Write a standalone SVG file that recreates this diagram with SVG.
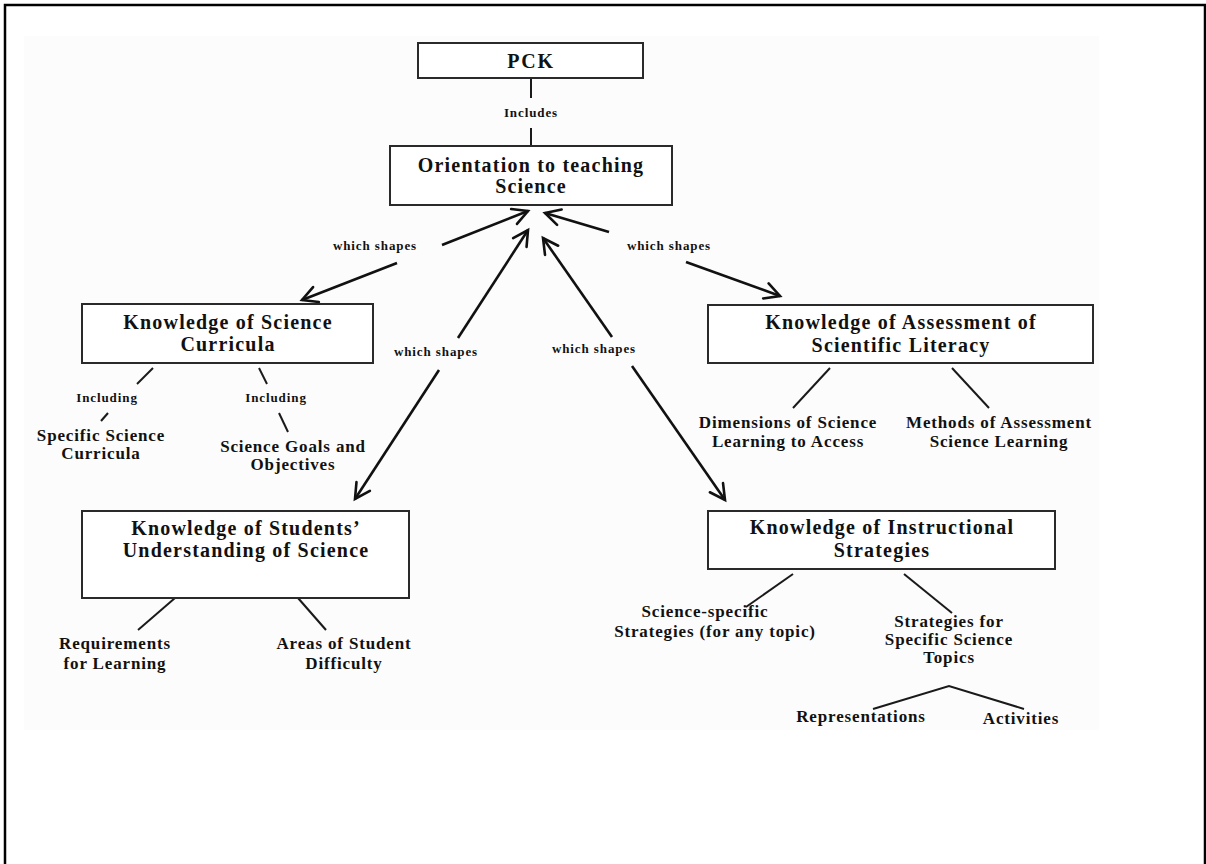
<svg xmlns="http://www.w3.org/2000/svg" width="1206" height="864" viewBox="0 0 1206 864">
<style>
  text { font-family: "Liberation Serif", "Times New Roman", serif; font-weight: bold; fill: #111; text-anchor: middle; }
  .big { font-size: 20px; letter-spacing: 1.2px; }
  .lbl { font-size: 17px; letter-spacing: 0.85px; }
  .sm { font-size: 13px; letter-spacing: 0.9px; }
  .box { fill: #fff; stroke: #2a2a2a; stroke-width: 2; }
  .ln { stroke: #1a1a1a; stroke-width: 2; fill: none; }
  .arr { stroke: #111; stroke-width: 2.6; fill: none; marker-end: url(#ah); }
</style>
<defs>
  <marker id="ah" markerUnits="userSpaceOnUse" viewBox="-18 -10 22 20" markerWidth="22" markerHeight="20" refX="0" refY="0" orient="auto">
    <path d="M-15,-8 L0,0 L-15,8" fill="none" stroke="#111" stroke-width="2.6" stroke-linecap="round" stroke-linejoin="miter"/>
  </marker>
</defs>
<rect width="1206" height="864" fill="#fff"/>
<rect x="24" y="36" width="1075" height="694" fill="#fcfcfc"/>
<path d="M5,870 V5 H1205 V870" fill="none" stroke="#000" stroke-width="2.5"/>

<g id="connectors">
  <line class="ln" x1="531" y1="78" x2="531" y2="98"/>
  <text class="sm" x="531" y="117">Includes</text>
  <line class="ln" x1="531" y1="128" x2="531" y2="146"/>

  <line class="arr" x1="442" y1="245" x2="528" y2="211"/>
  <line class="arr" x1="397" y1="263" x2="302" y2="300"/>
  <text class="sm" x="375" y="250">which shapes</text>

  <line class="arr" x1="458" y1="338" x2="528" y2="230"/>
  <line class="arr" x1="439" y1="370" x2="355" y2="499"/>
  <text class="sm" x="436" y="356">which shapes</text>

  <line class="arr" x1="612" y1="337" x2="543" y2="238"/>
  <line class="arr" x1="632" y1="366" x2="725" y2="500"/>
  <text class="sm" x="594" y="353">which shapes</text>

  <line class="arr" x1="609" y1="232" x2="545" y2="213"/>
  <line class="arr" x1="686" y1="262" x2="780" y2="296"/>
  <text class="sm" x="669" y="250">which shapes</text>

  <line class="ln" x1="153" y1="368" x2="137" y2="384"/>
  <line class="ln" x1="108" y1="413" x2="101" y2="421"/>
  <line class="ln" x1="259" y1="368" x2="267" y2="384"/>
  <line class="ln" x1="279" y1="413" x2="288" y2="432"/>

  <line class="ln" x1="830" y1="368" x2="793" y2="408"/>
  <line class="ln" x1="952" y1="368" x2="989" y2="408"/>

  <line class="ln" x1="175" y1="598" x2="138" y2="630"/>
  <line class="ln" x1="298" y1="598" x2="326" y2="630"/>

  <line class="ln" x1="793" y1="574" x2="746" y2="607"/>
  <line class="ln" x1="904" y1="574" x2="952" y2="613"/>
  <polyline class="ln" points="873,709 949,686 1024,709"/>
</g>

<g id="pck">
  <rect class="box" x="418" y="43" width="225" height="35"/>
  <text class="big" x="531" y="68" style="letter-spacing:1.8px">PCK</text>
</g>

<g id="orientation">
  <rect class="box" x="390" y="146" width="282" height="59"/>
  <text class="big" x="531" y="172">Orientation to teaching</text>
  <text class="big" x="531" y="193">Science</text>
</g>

<g id="curricula">
  <rect class="box" x="82" y="304" width="291" height="59"/>
  <text class="big" x="228" y="329">Knowledge of Science</text>
  <text class="big" x="228" y="351">Curricula</text>
  <text class="sm" x="107" y="402">Including</text>
  <text class="sm" x="276" y="402">Including</text>
</g>

<g id="specific-curricula">
  <text class="lbl" x="101" y="441">Specific Science</text>
  <text class="lbl" x="101" y="459">Curricula</text>
</g>

<g id="goals">
  <text class="lbl" x="293" y="452">Science Goals and</text>
  <text class="lbl" x="293" y="470">Objectives</text>
</g>

<g id="assessment">
  <rect class="box" x="708" y="305" width="385" height="58"/>
  <text class="big" x="901" y="329">Knowledge of Assessment of</text>
  <text class="big" x="901" y="352">Scientific Literacy</text>
</g>

<g id="dimensions">
  <text class="lbl" x="788" y="428">Dimensions of Science</text>
  <text class="lbl" x="788" y="447">Learning to Access</text>
</g>

<g id="methods">
  <text class="lbl" x="999" y="428">Methods of Assessment</text>
  <text class="lbl" x="999" y="447">Science Learning</text>
</g>

<g id="students">
  <rect class="box" x="82" y="511" width="327" height="87"/>
  <text class="big" x="246" y="535">Knowledge of Students’</text>
  <text class="big" x="246" y="557">Understanding of Science</text>
</g>

<g id="requirements">
  <text class="lbl" x="115" y="649">Requirements</text>
  <text class="lbl" x="115" y="669">for Learning</text>
</g>

<g id="difficulty">
  <text class="lbl" x="344" y="649">Areas of Student</text>
  <text class="lbl" x="344" y="669">Difficulty</text>
</g>

<g id="instructional">
  <rect class="box" x="708" y="511" width="347" height="58"/>
  <text class="big" x="882" y="534">Knowledge of Instructional</text>
  <text class="big" x="882" y="557">Strategies</text>
</g>

<g id="science-specific">
  <text class="lbl" x="705" y="617">Science-specific</text>
  <text class="lbl" x="715" y="637">Strategies (for any topic)</text>
</g>

<g id="specific-topics">
  <text class="lbl" x="949" y="627">Strategies for</text>
  <text class="lbl" x="949" y="645">Specific Science</text>
  <text class="lbl" x="949" y="663">Topics</text>
</g>

<g id="representations">
  <text class="lbl" x="861" y="722">Representations</text>
</g>

<g id="activities">
  <text class="lbl" x="1021" y="724">Activities</text>
</g>
</svg>
